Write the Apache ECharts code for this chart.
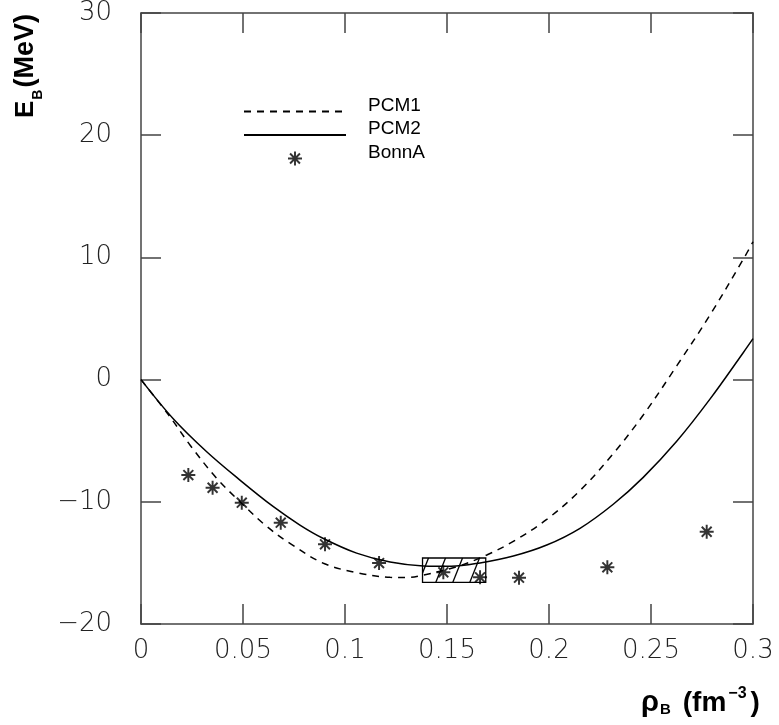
<!DOCTYPE html>
<html>
<head>
<meta charset="utf-8">
<script src="https://cdn.jsdelivr.net/npm/echarts@6/dist/echarts.min.js"></script>
<style>
  html, body { margin: 0; padding: 0; background: #fff; }
  #chart { width: 779px; height: 725px; }
</style>
</head>
<body>
<div id="chart"></div>
<script>
// Binding energy per nucleon of nuclear matter vs. baryon density
const xTicks = [0, 0.05, 0.1, 0.15, 0.2, 0.25, 0.3];
const yTicks = [-20, -10, 0, 10, 20, 30];

// PCM1 (dashed curve)
const pcm1Rho = [0, 0.0142, 0.0240, 0.0371, 0.0485, 0.0608, 0.0730, 0.0894, 0.1057, 0.1221, 0.1302, 0.1382, 0.1550, 0.1695, 0.1825, 0.1989, 0.2152, 0.2315, 0.2462, 0.2626, 0.2789, 0.2952, 0.3000];
const pcm1E   = [0, -3.04, -5.35, -8.08, -9.99, -11.90, -13.40, -15.03, -15.80, -16.18, -16.20, -16.00, -15.30, -14.35, -13.24, -11.44, -9.08, -6.06, -2.90, 1.12, 5.28, 9.84, 11.28];

// PCM2 (solid curve)
const pcm2Rho = [0, 0.0158, 0.0322, 0.0485, 0.0649, 0.0779, 0.0894, 0.1057, 0.1221, 0.1384, 0.1520, 0.1662, 0.1825, 0.1989, 0.2152, 0.2315, 0.2462, 0.2626, 0.2789, 0.2952, 0.3000];
const pcm2E   = [0, -3.20, -5.90, -8.22, -10.40, -11.90, -13.00, -14.20, -14.93, -15.25, -15.28, -15.00, -14.44, -13.54, -12.17, -10.20, -8.00, -5.05, -1.60, 2.20, 3.35];

// BonnA points
const bonnRho = [0.0232, 0.0351, 0.0494, 0.0685, 0.0902, 0.1167, 0.1482, 0.1662, 0.1853, 0.2286, 0.2773];
const bonnE   = [-7.81, -8.85, -10.07, -11.71, -13.48, -15.01, -15.77, -16.18, -16.21, -15.36, -12.45];

// Empirical saturation region: [rho min, rho max, E min, E max]
const satBox = [0.138, 0.169, -16.6, -14.6];

const zip = (a, b) => a.map((v, i) => [v, b[i]]);

// Asterisk marker built from four crossing bars
const STAR = 'path://M-1.4,-10L1.4,-10L1.4,10L-1.4,10Z' +
  'M-10,-1.4L10,-1.4L10,1.4L-10,1.4Z' +
  'M-6.08,-8.06L8.06,6.08L6.08,8.06L-8.06,-6.08Z' +
  'M-8.06,6.08L6.08,-8.06L8.06,-6.08L-6.08,8.06Z';

const axisColor = '#444';
const tickFont = { fontFamily: 'DejaVu Sans', fontWeight: 200, fontSize: 26, color: '#222' };
const fmt = v => String(parseFloat(Number(v).toFixed(2))).replace('-', '\u2212');

// Lay out a run of text pieces (sub/superscripts) side by side
const measureCtx = document.createElement('canvas').getContext('2d');
function textRun(parts, family) {
  let x = 0;
  return parts.map(p => {
    const font = `${p.style || 'normal'} ${p.weight || 'bold'} ${p.size}px "${family}"`;
    measureCtx.font = font;
    const el = {
      type: 'text', x: x + (p.gap || 0), y: p.dy || 0,
      style: { text: p.t, font: font, fill: '#000', align: 'left', verticalAlign: 'middle' }
    };
    x += (p.gap || 0) + measureCtx.measureText(p.t).width;
    return el;
  });
}

const frameAxis = {
  axisLine: { show: true, onZero: false, lineStyle: { color: axisColor, width: 1.5 } },
  axisTick: { show: true, inside: true, length: 20, lineStyle: { color: axisColor, width: 1.5 } },
  splitLine: { show: false }
};
const hiddenMarker = { color: 'rgba(0,0,0,0)', borderWidth: 0, opacity: 0 };

const chart = echarts.init(document.getElementById('chart'), null, { renderer: 'canvas' });

const option = {
  animation: false,
  backgroundColor: '#fff',
  grid: { left: 141, right: 26, top: 13, bottom: 101, containLabel: false },
  legend: {
    orient: 'vertical', left: 243, top: 96, padding: 0,
    itemWidth: 102, itemHeight: 14, itemGap: -5,
    selectedMode: false,
    formatter: '{a|{name}}\n{b| }',
    data: [
      { name: 'PCM1', itemStyle: hiddenMarker },
      { name: 'PCM2', itemStyle: hiddenMarker },
      { name: 'BonnA' }
    ],
    textStyle: {
      color: '#000', padding: [0, 0, 0, 17],
      rich: {
        a: { fontFamily: 'Liberation Sans', fontSize: 19, lineHeight: 22, color: '#000' },
        b: { fontSize: 4, lineHeight: 12 }
      }
    }
  },
  xAxis: [Object.assign({
    type: 'value', min: xTicks[0], max: xTicks[xTicks.length - 1], interval: 0.05,
    axisLabel: Object.assign({ margin: 14, formatter: fmt }, tickFont)
  }, frameAxis), Object.assign({
    type: 'value', position: 'top', min: xTicks[0], max: xTicks[xTicks.length - 1], interval: 0.05,
    axisLabel: { show: false }
  }, frameAxis)],
  yAxis: [Object.assign({
    type: 'value', min: yTicks[0], max: yTicks[yTicks.length - 1], interval: 10,
    axisLabel: Object.assign({ margin: 29, formatter: fmt }, tickFont)
  }, frameAxis), Object.assign({
    type: 'value', position: 'right', min: yTicks[0], max: yTicks[yTicks.length - 1], interval: 10,
    axisLabel: { show: false }
  }, frameAxis)],
  series: [{
    name: 'PCM1', type: 'line', data: zip(pcm1Rho, pcm1E),
    smooth: 0.35, symbol: 'none', z: 3,
    lineStyle: { color: '#000', width: 1.5, type: [7, 6] },
    itemStyle: { color: '#000' }
  }, {
    name: 'PCM2', type: 'line', data: zip(pcm2Rho, pcm2E),
    smooth: 0.35, symbol: 'none', z: 3,
    lineStyle: { color: '#000', width: 1.5, type: 'solid' },
    itemStyle: { color: '#000' }
  }, {
    name: 'BonnA', type: 'scatter', data: zip(bonnRho, bonnE),
    symbol: STAR, symbolSize: 14, symbolKeepAspect: true, z: 5,
    itemStyle: { color: '#000' }
  }, {
    name: 'saturation', type: 'custom', z: 2,
    data: [satBox],
    encode: { x: [0, 1], y: [2, 3] },
    renderItem: function (params, api) {
      const tl = api.coord([api.value(0), api.value(3)]);
      const br = api.coord([api.value(1), api.value(2)]);
      const L = tl[0], T = tl[1], R = br[0], B = br[1];
      const h = B - T, lean = h * 0.4, step = 17;
      const children = [{
        type: 'rect', shape: { x: L, y: T, width: R - L, height: h },
        style: { fill: 'rgba(0,0,0,0)', stroke: '#000', lineWidth: 1.3 }
      }];
      for (let bx = L - lean + 6; bx < R; bx += step) {
        let x1 = bx, y1 = B, x2 = bx + lean, y2 = T;
        if (x1 < L) { const t = (L - bx) / lean; x1 = L; y1 = B - h * t; }
        if (x2 > R) { const t = (R - bx) / lean; x2 = R; y2 = B - h * t; }
        if (x2 > x1) {
          children.push({ type: 'line', shape: { x1, y1, x2, y2 }, style: { stroke: '#000', lineWidth: 1.3 } });
        }
      }
      return { type: 'group', children };
    }
  }],
  graphic: [{
    type: 'group', x: 26, y: 118, rotation: Math.PI / 2,
    children: textRun([
      { t: 'E', size: 26 },
      { t: 'B', size: 14, dy: 12.5, gap: 1 },
      { t: '(MeV)', size: 27, gap: 2 }
    ], 'Liberation Sans')
  }, {
    type: 'group', x: 641, y: 703,
    children: textRun([
      { t: '\u03C1', size: 29 },
      { t: 'B', size: 15, dy: 7, gap: 1 },
      { t: '(fm', size: 28, gap: 12 },
      { t: '\u22123', size: 16, dy: -9, gap: 2 },
      { t: ')', size: 28, gap: 4 }
    ], 'Liberation Sans')
  }]
};

chart.setOption(option);
</script>
</body>
</html>
